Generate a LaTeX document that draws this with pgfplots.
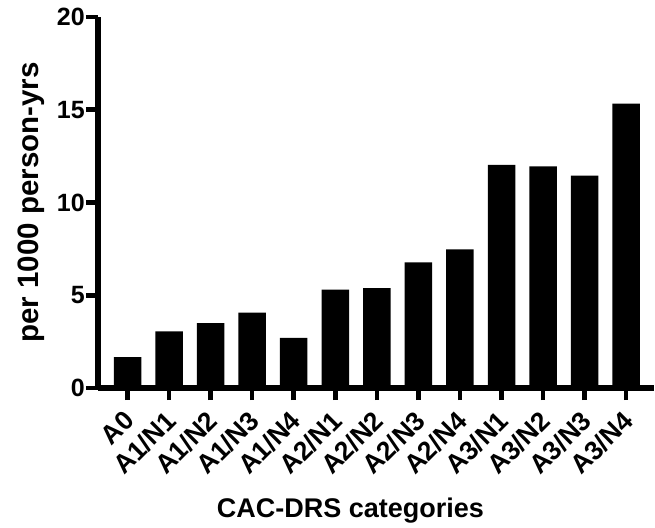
\documentclass[border=0pt]{standalone}
\usepackage{fontspec}
\setmainfont{Liberation Sans}
\usepackage{pgfplots}
\pgfplotsset{compat=1.18}
\begin{document}
\begin{tikzpicture}
\path[use as bounding box] (-98pt,-139pt) rectangle (557pt,388pt);
\begin{axis}[
  scale only axis, width=556pt, height=371pt,
  xmin=-0.71, xmax=12.67, ymin=0, ymax=20,
  axis lines=left, axis line style={line width=6pt,-},
  ytick={0,5,10,15,20},
  xtick={0,...,12},
  xticklabels={A0,A1/N1,A1/N2,A1/N3,A1/N4,A2/N1,A2/N2,A2/N3,A2/N4,A3/N1,A3/N2,A3/N3,A3/N4},
  tick style={line width=4.5pt,black},
  major tick length=12pt, tick align=outside,
  /pgf/number format/assume math mode=true,
  yticklabel style={font=\bfseries\fontsize{25}{30}\selectfont, inner sep=1pt},
  xticklabel style={xshift=-5pt, yshift=-9pt, font=\bfseries\fontsize{26.5}{30}\selectfont, rotate=45, anchor=north east, inner sep=0pt},
  ylabel={per 1000 person-yrs},
  ylabel style={at={(axis description cs:-0.1205,0.5)}, anchor=center, rotate=0, font=\bfseries\fontsize{29.5}{34}\selectfont},
  xlabel={CAC-DRS categories},
  xlabel style={at={(axis description cs:0.454,-0.350)}, anchor=base, font=\bfseries\fontsize{27}{32}\selectfont},
]
\addplot[ybar, bar width=27.5pt, fill=black, draw=none] coordinates {
(0,1.67) (1,3.05) (2,3.50) (3,4.06) (4,2.70) (5,5.30) (6,5.39) (7,6.77) (8,7.47) (9,12.03) (10,11.95) (11,11.45) (12,15.33)
};
\end{axis}
\end{tikzpicture}
\end{document}
